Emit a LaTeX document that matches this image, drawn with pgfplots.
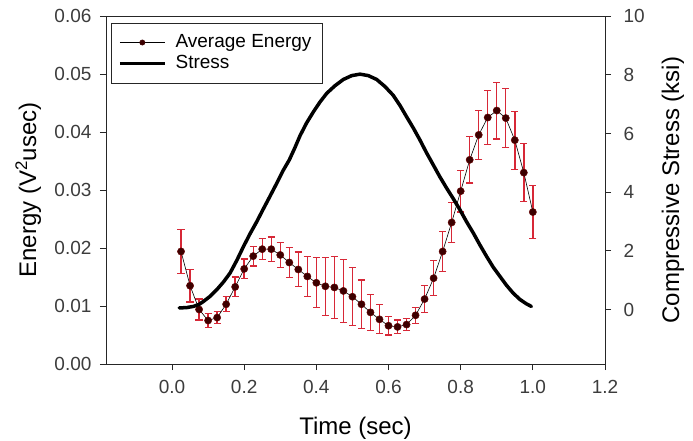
\documentclass[border=0pt]{standalone}
\usepackage{pgfplots}
\pgfplotsset{compat=1.18}
\usepackage{fontspec}
\setmainfont{Liberation Sans}

\definecolor{errred}{RGB}{215,40,55}
\definecolor{markred}{RGB}{60,0,0}
\definecolor{tickgray}{RGB}{60,60,60}

% time (sec), average energy, error
\pgfplotstableread{
t e err
0.025 0.0194 0.0038
0.050 0.0135 0.0028
0.075 0.0094 0.0018
0.100 0.0075 0.0012
0.125 0.0080 0.0010
0.150 0.0103 0.0013
0.175 0.0133 0.0017
0.200 0.0164 0.0017
0.225 0.0186 0.0017
0.250 0.0198 0.0018
0.275 0.0198 0.0021
0.300 0.0188 0.0022
0.325 0.0175 0.0026
0.350 0.0163 0.0030
0.375 0.0151 0.0035
0.400 0.0140 0.0043
0.425 0.0134 0.0050
0.450 0.0132 0.0053
0.475 0.0126 0.0054
0.500 0.0116 0.0050
0.525 0.0103 0.0042
0.550 0.0089 0.0031
0.575 0.0077 0.0025
0.600 0.0066 0.0016
0.625 0.0064 0.0012
0.650 0.0068 0.0010
0.675 0.0084 0.0014
0.700 0.0112 0.0023
0.725 0.0148 0.0030
0.750 0.0194 0.0034
0.775 0.0244 0.0034
0.800 0.0298 0.0036
0.825 0.0352 0.0040
0.850 0.0395 0.0042
0.875 0.0425 0.0047
0.900 0.0437 0.0049
0.925 0.0424 0.0051
0.950 0.0386 0.0050
0.975 0.0330 0.0050
1.000 0.0262 0.0046
}\energy

% time (sec), compressive stress (ksi)
\pgfplotstableread{
t s
0.020 0.06
0.040 0.07
0.059 0.11
0.075 0.18
0.087 0.28
0.105 0.45
0.124 0.68
0.143 0.95
0.161 1.25
0.180 1.69
0.198 2.15
0.216 2.58
0.235 3.00
0.253 3.43
0.271 3.85
0.290 4.30
0.308 4.74
0.325 5.10
0.340 5.50
0.355 5.93
0.373 6.36
0.392 6.74
0.410 7.07
0.429 7.37
0.452 7.63
0.475 7.84
0.498 7.97
0.521 8.02
0.544 7.97
0.567 7.84
0.590 7.60
0.613 7.30
0.632 6.95
0.650 6.57
0.669 6.18
0.687 5.78
0.705 5.35
0.724 4.93
0.742 4.53
0.761 4.14
0.780 3.77
0.798 3.40
0.816 3.00
0.835 2.61
0.853 2.21
0.872 1.81
0.890 1.45
0.909 1.13
0.927 0.83
0.945 0.57
0.964 0.35
0.982 0.20
0.996 0.11
}\stress

\pgfplotsset{
  twin/.style={
    scale only axis,
    width=499pt,
    height=348pt,
    xmin=-0.183,
    xmax=1.2,
    /pgf/number format/assume math mode=true,
    tick label style={font=\fontsize{19}{22}\selectfont, text=tickgray},
    label style={font=\fontsize{24}{28}\selectfont},
    tick align=outside,
    major tick length=6pt,
    axis line style={black!85, line width=0.9pt},
    tick style={black!85, line width=0.9pt},
  }
}

\begin{document}
\begin{tikzpicture}
\begin{axis}[
  twin,
  ymin=0, ymax=0.06,
  ytick={0,0.01,0.02,0.03,0.04,0.05,0.06},
  xtick={0,0.2,0.4,0.6,0.8,1.0,1.2},
  xtick pos=bottom,
  ytick pos=left,
  scaled y ticks=false,
  scaled x ticks=false,
  yticklabel style={xshift=-5pt, /pgf/number format/fixed, /pgf/number format/fixed zerofill, /pgf/number format/precision=2},
  xticklabel style={yshift=-7pt, /pgf/number format/fixed, /pgf/number format/fixed zerofill, /pgf/number format/precision=1},
  xlabel={Time (sec)},
  ylabel={Energy (V\textsuperscript{2}usec)},
  xlabel style={at={(rel axis cs:0.5,-0.184)}, anchor=center},
  ylabel style={at={(rel axis cs:-0.156,0.5)}, anchor=center},
  legend style={
    at={(rel axis cs:0.0094,0.981)},
    anchor=north west,
    font=\fontsize{19}{21}\selectfont,
    draw=black!85,
    line width=0.8pt,
    inner xsep=7pt,
    inner ysep=9pt,
    row sep=0pt,
    nodes={text height=14pt, text depth=4pt, inner ysep=1.5pt, inner xsep=4pt},
    /tikz/every odd column/.append style={column sep=5pt},
    cells={anchor=west},
  },
]
% error bars alone, drawn first
\addplot[
  forget plot, draw=none, mark=none,
  error bars/.cd,
  y dir=both, y explicit,
  error bar style={draw=errred, solid, line width=1.4pt},
  error mark options={draw=errred, solid, rotate=90, mark size=3.6pt, line width=1.2pt},
] table[x=t, y=e, y error=err] {\energy};
\addplot[
  black, line width=0.6pt,
  mark=*, mark size=3.6pt,
  mark options={fill=markred, draw=markred!80!red, line width=0.5pt},
  legend image code/.code={
    \draw[black, line width=0.7pt] (0pt,0pt) -- (45pt,0pt);
    \fill[markred] (22.5pt,0pt) circle (2.6pt);
  },
] table[x=t, y=e] {\energy};
\addlegendentry{Average Energy}
\addlegendimage{legend image code/.code={
  \draw[black, line width=3.5pt] (0pt,0pt) -- (45pt,0pt);}}
\addlegendentry{Stress}
\end{axis}

\begin{axis}[
  twin,
  axis x line=none,
  axis y line*=right,
  ymin=-1.85, ymax=10,
  ytick={0,2,4,6,8,10},
  yticklabel style={xshift=9pt},
  ylabel={Compressive Stress (ksi)},
  ylabel style={at={(rel axis cs:1.136,0.5)}, anchor=center},
]
\addplot[black, line width=3.5pt, line join=round, line cap=round] table[x=t, y=s] {\stress};
\end{axis}
\pgfresetboundingbox
\path[use as bounding box] (-106pt,-76pt) rectangle (587pt,364pt);
\end{tikzpicture}
\end{document}
